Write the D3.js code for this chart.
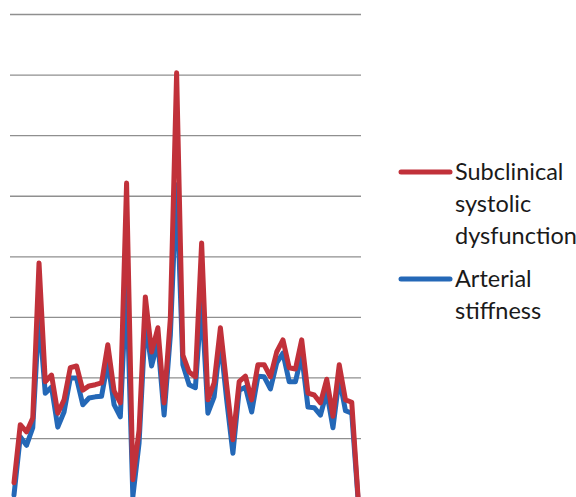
<!DOCTYPE html>
<html>
<head>
<meta charset="utf-8">
<script src="https://cdn.jsdelivr.net/npm/d3@7"></script>
<style>
  html, body { margin: 0; padding: 0; background: #fff; }
  svg { display: block; }
  .legend text { font-family: Lato, "Open Sans", sans-serif; font-size: 23.5px; fill: #1a1a1a; }
</style>
</head>
<body>
<svg id="chart" width="576" height="497"></svg>
<script>
// Observation index along the horizontal axis (one per sample)
const categories = d3.range(56);

// Subclinical systolic dysfunction
const systolic = [
  2.6, 12.2, 11.0, 13.3, 38.9, 19.3, 20.4, 14.1, 16.3, 21.6,
  21.9, 17.9, 18.6, 18.8, 19.1, 25.4, 17.8, 15.8, 52.1, 3.1,
  11.3, 33.3, 24.2, 28.2, 15.8, 29.8, 70.3, 23.7, 20.9, 20.1,
  42.2, 16.3, 19.1, 28.2, 18.8, 9.7, 19.3, 20.2, 16.3, 22.1,
  22.1, 20.1, 24.2, 26.2, 21.6, 21.4, 26.2, 17.4, 17.1, 15.8,
  19.7, 13.6, 22.1, 16.3, 15.9, 0.4
];

// Arterial stiffness
const arterial = [
  0.6, 10.2, 8.8, 11.7, 30.3, 17.4, 18.4, 11.8, 14.3, 19.9,
  19.9, 15.5, 16.6, 16.8, 16.9, 22.6, 15.5, 13.5, 35.8, 0.3,
  9.2, 29.2, 21.9, 25.9, 13.8, 27.0, 51.8, 22.1, 18.8, 18.3,
  32.8, 14.1, 16.8, 26.2, 16.3, 7.5, 17.9, 18.4, 14.3, 20.2,
  20.1, 18.1, 22.4, 24.0, 19.3, 19.3, 23.7, 15.1, 15.0, 13.8,
  17.6, 11.7, 19.9, 14.5, 14.1, 0.0
];

// Value axis ticks (drawn as gridlines only)
const yTicks = [10, 20, 30, 40, 50, 60, 70, 80];

const seriesNames = ["Subclinical systolic dysfunction", "Arterial stiffness"];
const seriesLegendLines = [["Subclinical", "systolic", "dysfunction"], ["Arterial", "stiffness"]];
const seriesColors = ["#c1313a", "#2468b7"];

const svg = d3.select("#chart");

const plot = { left: 10, right: 361, top: 14, bottom: 498.6 };

const x = d3.scalePoint()
  .domain(categories)
  .range([14, 358]);

const y = d3.scaleLinear()
  .domain([0, 80])
  .range([plot.bottom, plot.top]);

// Horizontal gridlines
const grid = svg.append("g")
  .attr("transform", `translate(${plot.left},0)`)
  .call(d3.axisLeft(y)
    .tickValues(yTicks)
    .tickSize(-(plot.right - plot.left))
    .tickFormat(""));
grid.select(".domain").remove();
grid.selectAll(".tick line")
  .attr("stroke", "#8f8f8f")
  .attr("stroke-width", 1.3);

const line = d3.line()
  .x((d, i) => x(categories[i]))
  .y(d => y(d));

// Blue first so the red series sits on top
const data = [
  { name: seriesNames[1], values: arterial, color: seriesColors[1] },
  { name: seriesNames[0], values: systolic, color: seriesColors[0] }
];

svg.append("g")
  .selectAll("path")
  .data(data)
  .join("path")
  .attr("d", d => line(d.values))
  .attr("fill", "none")
  .attr("stroke", d => d.color)
  .attr("stroke-width", 5)
  .attr("stroke-linejoin", "round")
  .attr("stroke-linecap", "round");

// Legend
const legend = svg.append("g").attr("class", "legend");
const legendItems = [
  { lines: seriesLegendLines[0], color: seriesColors[0], y: 172 },
  { lines: seriesLegendLines[1], color: seriesColors[1], y: 279 }
];

legendItems.forEach(item => {
  legend.append("line")
    .attr("x1", 401).attr("x2", 450)
    .attr("y1", item.y).attr("y2", item.y)
    .attr("stroke", item.color)
    .attr("stroke-width", 5)
    .attr("stroke-linecap", "round");
  const t = legend.append("text")
    .attr("x", 455)
    .attr("y", item.y);
  item.lines.forEach((s, i) => {
    t.append("tspan")
      .attr("x", 455)
      .attr("y", item.y + i * 32)
      .attr("dy", "0.35em")
      .text(s);
  });
});
</script>
</body>
</html>
